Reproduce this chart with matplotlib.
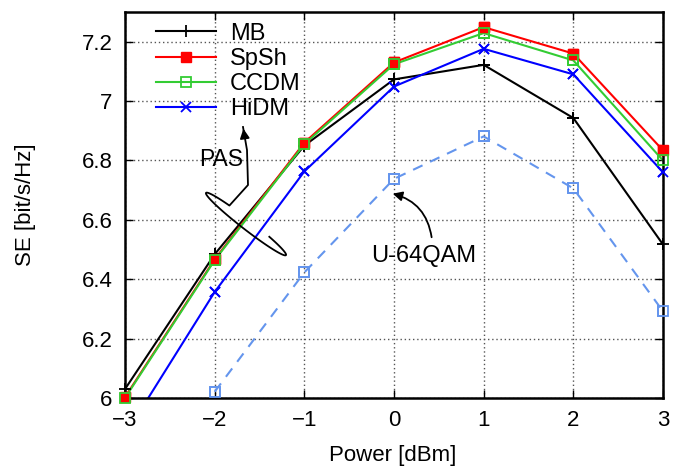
import numpy as np
import matplotlib
matplotlib.use("Agg")
import matplotlib.pyplot as plt
import matplotlib.transforms as mtransforms

plt.rcParams['font.family'] = ['Liberation Sans', 'DejaVu Sans']

# data
power = [-3, -2, -1, 0, 1, 2, 3]
se_mb = [6.03, 6.484, 6.85, 7.073, 7.122, 6.943, 6.517]
se_spsh = [6.003, 6.467, 6.86, 7.130, 7.249, 7.160, 6.834]
se_ccdm = [6.0, 6.464, 6.855, 7.124, 7.229, 7.137, 6.800]
se_hidm = [5.875, 6.357, 6.763, 7.049, 7.176, 7.090, 6.760]
se_u64 = [np.nan, 6.021, 6.423, 6.738, 6.881, 6.706, 6.292]

W, H = 682, 467
fig = plt.figure(figsize=(W / 100, H / 100), dpi=100)
ax = fig.add_axes([125 / W, 1 - 398 / H, (663 - 125) / W, (398 - 12) / H])

series = [
    (se_mb, 'MB', dict(color='black', marker='+', ms=9, mew=1.3)),
    (se_spsh, 'SpSh', dict(color='#ff0000', marker='s', ms=7, mfc='#ff0000')),
    (se_ccdm, 'CCDM', dict(color='#33cc33', marker='s', ms=6.5, mfc='none', mew=1.3)),
    (se_hidm, 'HiDM', dict(color='#0000ff', marker='x', ms=7, mew=1.3)),
]

ylo, yhi = 6.0, 7.3
for vals, name, st in series:
    ax.plot(power, vals, lw=1.5, label=name, **st)
    # gnuplot draws points at the border without clipping
    inside = [(p, v) for p, v in zip(power, vals) if ylo - 0.01 <= v <= yhi]
    px, py = zip(*inside)
    ax.plot(px, py, ls='none', clip_on=False, zorder=5, **st)

u64_style = dict(color='#6495ed', marker='s', ms=6.5, mfc='none', mew=1.3)
ax.plot(power, se_u64, lw=1.5, ls=(0, (5, 4)), **u64_style)
ax.plot(power, se_u64, ls='none', clip_on=False, zorder=5, **u64_style)

ax.set_xlim(-3, 3)
ax.set_ylim(ylo, yhi)
ax.set_xticks(power)
ax.set_xticklabels(['\u22123', '\u22122', '\u22121', '0', '1', '2', '3'])
ax.set_yticks([6, 6.2, 6.4, 6.6, 6.8, 7, 7.2])
ax.set_yticklabels(['6', '6.2', '6.4', '6.6', '6.8', '7', '7.2'])
ax.tick_params(direction='in', length=6, width=1, top=True, right=True,
               labelsize=16, pad=9)
ax.grid(True, ls=(0, (1, 2)), color='#555555', lw=1)
for s in ax.spines.values():
    s.set_linewidth(1.8)

ax.set_xlabel('Power [dBm]', fontsize=16)
ax.set_ylabel('SE [bit/s/Hz]', fontsize=16)
ax.xaxis.set_label_coords((393 - 125) / 538, (398 - 445) / 386)
ax.yaxis.set_label_coords((36 - 125) / 538, (398 - 205) / 386)

ax.legend(loc='upper left', bbox_to_anchor=(0.03, 1.012), frameon=False,
          fontsize=17, handlelength=2.5, handletextpad=0.6,
          labelspacing=0.13, borderaxespad=0.25)

# annotations are placed in reference pixel coordinates
pix = mtransforms.Affine2D().scale(1 / W, -1 / H).translate(0, 1) + fig.transFigure

ax.text(221, 159, 'PAS', transform=pix, fontsize=16.5, ha='center', va='center')
ax.text(424, 256, 'U-64QAM', transform=pix, fontsize=17, ha='center', va='center')

# loop around the PAS curves with a stem up to the legend
cx, cy, a, b, tilt = 246, 224, 48, 17, np.deg2rad(36)
t = np.linspace(np.deg2rad(100), np.deg2rad(400), 80)
ex = cx + a * np.cos(t) * np.cos(tilt) - b * np.sin(t) * np.sin(tilt)
ey = cy + a * np.cos(t) * np.sin(tilt) - b * np.sin(t) * np.cos(tilt)
loop = np.column_stack([ex, ey])
stem = np.array([[243, 127], [247, 150], [248, 185], [ex[0], ey[0]]])
pts = np.vstack([stem, loop])
ax.plot(pts[:, 0], pts[:, 1], color='black', lw=1.3, transform=pix, clip_on=False)
ax.annotate('', xy=(243, 126), xytext=(245, 140), xycoords=pix, textcoords=pix,
            arrowprops=dict(arrowstyle='-|>', color='black', lw=1.3,
                            mutation_scale=14))

ax.annotate('', xy=(390, 193), xytext=(432, 240), xycoords=pix, textcoords=pix,
            arrowprops=dict(arrowstyle='-|>', color='black', lw=1.3,
                            mutation_scale=14, connectionstyle='arc3,rad=0.35'))

fig.savefig('out.png', dpi=100)
